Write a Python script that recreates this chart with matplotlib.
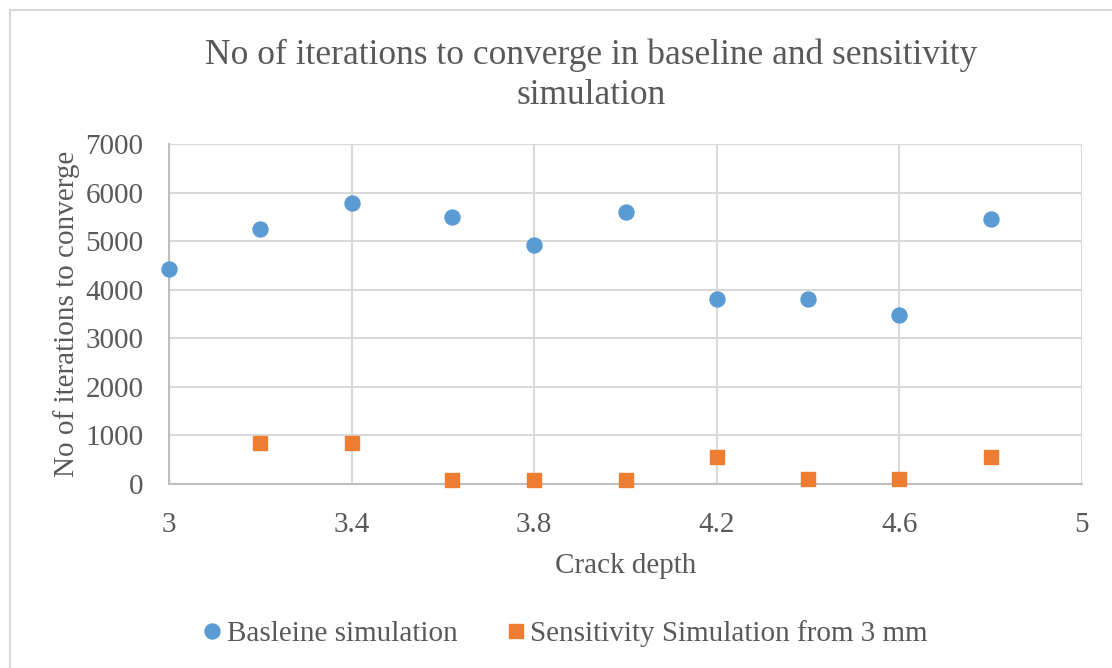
import matplotlib.pyplot as plt
from matplotlib.patches import Rectangle

plt.rcParams['font.family'] = ['Liberation Serif', 'DejaVu Serif']

# crack depth and iteration counts
depth = [3.0, 3.2, 3.4, 3.62, 3.8, 4.0, 4.2, 4.4, 4.6, 4.8]
baseline = [4430, 5260, 5775, 5495, 4920, 5600, 3805, 3800, 3485, 5455]
sensitivity = [None, 835, 850, 90, 90, 92, 560, 95, 100, 560]

sens_x = [d for d, s in zip(depth, sensitivity) if s is not None]
sens_y = [s for s in sensitivity if s is not None]

txt = '#595959'
grid = '#D9D9D9'
axis_col = '#BFBFBF'

fig = plt.figure(figsize=(11.12, 6.68), dpi=100)
fig.patches.append(Rectangle((10 / 1112, -0.1), 1.2, 1.1 - 10 / 668,
                             transform=fig.transFigure, fill=False,
                             edgecolor='#D9D9D9', linewidth=1.5))

ax = fig.add_axes([169 / 1112, 1 - 484 / 668, (1082 - 169) / 1112, (484 - 144) / 668])

ax.plot(depth, baseline, linestyle='none', marker='o', markersize=10.8,
        color='#5B9BD5', label='Basleine simulation', zorder=3, clip_on=False)
ax.plot(sens_x, sens_y, linestyle='none', marker='s', markersize=10.5,
        color='#ED7D31', label='Sensitivity Simulation from 3 mm', zorder=3, clip_on=False)

ax.set_xlim(3, 5)
ax.set_ylim(0, 7000)
ax.set_xticks([3, 3.4, 3.8, 4.2, 4.6, 5])
ax.set_xticklabels(['3', '3.4', '3.8', '4.2', '4.6', '5'])
ax.set_yticks(range(0, 7001, 1000))

ax.grid(True, color=grid, linewidth=1.5)
ax.set_axisbelow(True)
for side in ['top', 'right']:
    ax.spines[side].set_visible(False)
for side in ['left', 'bottom']:
    ax.spines[side].set_color(axis_col)
    ax.spines[side].set_linewidth(1.5)

ax.tick_params(length=0, labelsize=21, labelcolor=txt)
ax.tick_params(axis='x', pad=20)
ax.tick_params(axis='y', pad=18.5)

ax.set_xlabel('Crack depth', fontsize=21, color=txt, labelpad=11)
ax.set_ylabel('No of iterations to converge', fontsize=21, color=txt, labelpad=4)

fig.text(0.532, 1 - 38 / 668, 'No of iterations to converge in baseline and sensitivity\nsimulation',
         ha='center', va='top', fontsize=25.5, color=txt, linespacing=1.3)

leg = fig.legend(loc='center', bbox_to_anchor=(0.506, 0.052), ncol=2, frameon=False,
                 fontsize=21, labelcolor=txt, handletextpad=0.0, columnspacing=1.5,
                 handlelength=1.0, markerscale=1.0)

fig.savefig('out.png', dpi=100)
